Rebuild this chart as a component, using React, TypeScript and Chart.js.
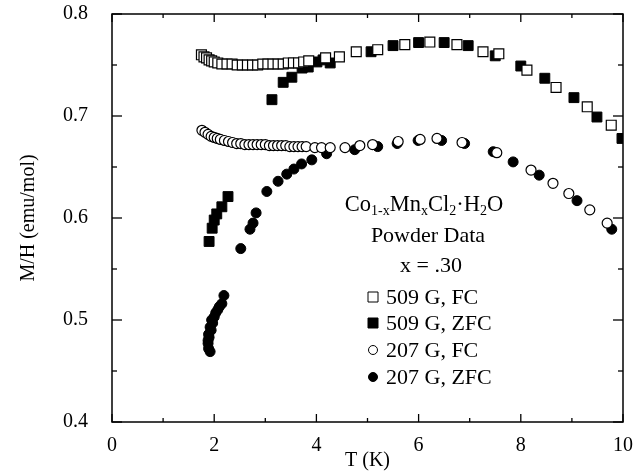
import React, { useEffect, useRef } from "react";
import { Chart, registerables } from "chart.js";

Chart.register(...registerables);

const FONT = '"Liberation Serif", "Times New Roman", serif';

// T (K), M/H (emu/mol)
const fc509: [number, number][] = [
  [1.75, 0.76], [1.8, 0.758], [1.85, 0.757], [1.9, 0.755], [1.95, 0.754], [2.0, 0.753],
  [2.07, 0.752], [2.15, 0.751], [2.25, 0.751], [2.35, 0.751], [2.45, 0.75], [2.55, 0.75],
  [2.65, 0.75], [2.75, 0.75], [2.85, 0.75], [2.95, 0.751], [3.05, 0.751], [3.15, 0.751],
  [3.25, 0.751], [3.35, 0.751], [3.45, 0.752], [3.55, 0.752], [3.65, 0.752], [3.75, 0.753],
  [3.85, 0.754], [4.18, 0.757], [4.45, 0.758], [4.78, 0.763], [5.2, 0.765], [5.73, 0.77],
  [6.22, 0.7725], [6.75, 0.77], [7.26, 0.763], [7.57, 0.761], [8.12, 0.745], [8.69, 0.728],
  [9.3, 0.709], [9.77, 0.691],
];

const zfc509: [number, number][] = [
  [1.9, 0.577], [1.96, 0.59], [2.0, 0.598], [2.05, 0.604], [2.15, 0.611], [2.27, 0.621],
  [3.13, 0.716], [3.35, 0.733], [3.52, 0.738], [3.72, 0.747], [3.84, 0.748], [4.01, 0.753],
  [4.13, 0.755], [4.27, 0.752], [5.07, 0.763], [5.5, 0.769], [6.0, 0.772], [6.5, 0.772],
  [6.97, 0.769], [7.5, 0.759], [8.0, 0.749], [8.47, 0.737], [9.04, 0.718], [9.49, 0.699],
  [9.98, 0.678],
];

const fc207: [number, number][] = [
  [1.76, 0.686], [1.82, 0.684], [1.88, 0.682], [1.94, 0.68], [2.0, 0.679], [2.06, 0.678],
  [2.12, 0.677], [2.2, 0.676], [2.28, 0.675], [2.36, 0.674], [2.44, 0.673], [2.52, 0.673],
  [2.6, 0.672], [2.68, 0.672], [2.76, 0.672], [2.84, 0.672], [2.92, 0.672], [3.0, 0.672],
  [3.08, 0.671], [3.16, 0.671], [3.24, 0.671], [3.32, 0.671], [3.4, 0.671], [3.48, 0.67],
  [3.56, 0.67], [3.64, 0.67], [3.72, 0.67], [3.8, 0.67], [3.97, 0.669], [4.1, 0.669],
  [4.27, 0.669], [4.56, 0.669], [4.85, 0.671], [5.1, 0.672], [5.6, 0.675], [6.03, 0.677],
  [6.36, 0.678], [6.85, 0.674], [7.53, 0.664], [8.2, 0.647], [8.63, 0.634], [8.94, 0.624],
  [9.35, 0.608], [9.69, 0.595],
];

const zfc207: [number, number][] = [
  [1.92, 0.469], [1.89, 0.472], [1.88, 0.477], [1.88, 0.48], [1.9, 0.483], [1.89, 0.486],
  [1.94, 0.49], [1.92, 0.493], [1.97, 0.497], [1.95, 0.5], [2.0, 0.503], [2.03, 0.507],
  [2.07, 0.51], [2.1, 0.513], [2.15, 0.516], [2.19, 0.524], [2.52, 0.57], [2.7, 0.589],
  [2.76, 0.595], [2.82, 0.605], [3.03, 0.626], [3.25, 0.636], [3.42, 0.643], [3.56, 0.648],
  [3.71, 0.653], [3.91, 0.657], [4.2, 0.663], [4.75, 0.667], [5.2, 0.67], [5.58, 0.673],
  [5.99, 0.676], [6.45, 0.676], [6.9, 0.673], [7.46, 0.665], [7.85, 0.655], [8.36, 0.642],
  [9.1, 0.617], [9.78, 0.589],
];

const seriesLabels = ["509 G, FC", "509 G, ZFC", "207 G, FC", "207 G, ZFC"];
const xMajorTicks = [0, 2, 4, 6, 8, 10];
const xMinorTicks = [1, 3, 5, 7, 9];
const yMajorTicks = [0.4, 0.5, 0.6, 0.7, 0.8];
const yMinorTicks = [0.45, 0.55, 0.65, 0.75];
const annotationLines = ["Powder Data", "x = .30"];

const toPts = (arr: [number, number][]) => arr.map(([x, y]) => ({ x, y }));

const frameTicksPlugin = {
  id: "frameTicks",
  afterDatasetsDraw(chart: any) {
    const { ctx, chartArea, scales } = chart;
    const { left, right, top, bottom } = chartArea;
    const x = scales.x;
    const y = scales.y;
    ctx.save();
    ctx.strokeStyle = "#000";
    ctx.lineWidth = 1.5;
    ctx.strokeRect(left, top, right - left, bottom - top);
    ctx.lineWidth = 1.3;
    const line = (x1: number, y1: number, x2: number, y2: number) => {
      ctx.beginPath();
      ctx.moveTo(x1, y1);
      ctx.lineTo(x2, y2);
      ctx.stroke();
    };
    const xt = (v: number, len: number) => {
      const px = x.getPixelForValue(v);
      line(px, bottom, px, bottom - len);
      line(px, top, px, top + len);
    };
    const yt = (v: number, len: number) => {
      const py = y.getPixelForValue(v);
      line(left, py, left + len, py);
      line(right, py, right - len, py);
    };
    xMajorTicks.forEach((v) => xt(v, 8));
    xMinorTicks.forEach((v) => xt(v, 4));
    yMajorTicks.forEach((v) => yt(v, 10));
    yMinorTicks.forEach((v) => yt(v, 5));
    ctx.restore();
  },
};

const textPlugin = {
  id: "textBlock",
  afterDraw(chart: any) {
    const { ctx } = chart;
    ctx.save();
    ctx.fillStyle = "#000";
    const big = `22.5px ${FONT}`;
    const legendFont = `22px ${FONT}`;
    const small = `14px ${FONT}`;
    const pieces: [string, boolean][] = [
      ["Co", false], ["1-x", true], ["Mn", false], ["x", true], ["Cl", false],
      ["2", true], ["\u00B7H", false], ["2", true], ["O", false],
    ];
    let total = 0;
    pieces.forEach(([t, sub]) => {
      ctx.font = sub ? small : big;
      total += ctx.measureText(t).width;
    });
    let cx = 424 - total / 2;
    const base = 211;
    ctx.textBaseline = "alphabetic";
    ctx.textAlign = "left";
    pieces.forEach(([t, sub]) => {
      ctx.font = sub ? small : big;
      ctx.fillText(t, cx, sub ? base + 4 : base);
      cx += ctx.measureText(t).width;
    });
    ctx.font = legendFont;
    ctx.textAlign = "center";
    ctx.textBaseline = "middle";
    ctx.fillText(annotationLines[0], 428, 236);
    ctx.fillText(annotationLines[1], 431, 266);
    const rows = [297, 323, 350, 377];
    chart.data.datasets.forEach((ds: any, i: number) => {
      const yy = rows[i];
      const mx = 373;
      ctx.fillStyle = ds.backgroundColor;
      ctx.strokeStyle = "#000";
      ctx.lineWidth = 1;
      ctx.beginPath();
      if (ds.pointStyle === "rect") {
        ctx.rect(mx - 5, yy - 5, 10, 10);
      } else {
        ctx.arc(mx, yy, 4.5, 0, Math.PI * 2);
      }
      ctx.fill();
      ctx.stroke();
      ctx.fillStyle = "#000";
      ctx.textAlign = "left";
      ctx.font = legendFont;
      ctx.fillText(ds.label, 386, yy + 1);
    });
    ctx.restore();
  },
};

export default function App() {
  const ref = useRef<HTMLCanvasElement | null>(null);
  useEffect(() => {
    if (!ref.current) return;
    const chart = new Chart(ref.current, {
      type: "scatter",
      data: {
        datasets: [
          {
            label: seriesLabels[0], data: toPts(fc509), pointStyle: "rect", pointRadius: 7,
            backgroundColor: "#fff", borderColor: "#000", borderWidth: 1.2,
          },
          {
            label: seriesLabels[1], data: toPts(zfc509), pointStyle: "rect", pointRadius: 7,
            backgroundColor: "#000", borderColor: "#000", borderWidth: 1,
          },
          {
            label: seriesLabels[2], data: toPts(fc207), pointStyle: "circle", pointRadius: 5,
            backgroundColor: "#fff", borderColor: "#000", borderWidth: 1.2,
          },
          {
            label: seriesLabels[3], data: toPts(zfc207), pointStyle: "circle", pointRadius: 5,
            backgroundColor: "#000", borderColor: "#000", borderWidth: 1,
          },
        ] as any,
      },
      options: {
        animation: false,
        responsive: false,
        devicePixelRatio: 1,
        layout: { padding: { top: 14, right: 13, left: 0, bottom: 0 } },
        plugins: { legend: { display: false }, tooltip: { enabled: false } },
        scales: {
          x: {
            type: "linear",
            min: 0,
            max: 10,
            afterFit: (s: any) => {
              s.height = 51;
              s.paddingLeft = 0;
              s.paddingRight = 0;
            },
            ticks: {
              stepSize: 2,
              padding: 12,
              color: "#000",
              font: { family: FONT, size: 20 },
              callback: (v: any) => String(v),
            },
            grid: { display: false, drawTicks: false },
            border: { display: false },
            title: {
              display: true, text: "T (K)", color: "#000",
              font: { family: FONT, size: 20 }, padding: { top: 0, bottom: 0 },
            },
          },
          y: {
            type: "linear",
            min: 0.4,
            max: 0.8,
            afterFit: (s: any) => {
              s.width = 112;
              s.paddingTop = 0;
              s.paddingBottom = 0;
            },
            ticks: {
              stepSize: 0.1,
              padding: 24,
              color: "#000",
              font: { family: FONT, size: 20 },
              callback: (v: any) => Number(v).toFixed(1),
            },
            grid: { display: false, drawTicks: false },
            border: { display: false },
            title: {
              display: true, text: "M/H (emu/mol)", color: "#000",
              font: { family: FONT, size: 20 }, padding: { top: 17, bottom: 0 },
            },
          },
        },
      } as any,
      plugins: [frameTicksPlugin, textPlugin],
    });
    return () => chart.destroy();
  }, []);
  return (
    <div style={{ position: "fixed", left: 0, top: 0, width: 636, height: 473, background: "#fff" }}>
      <canvas ref={ref} width={636} height={473} />
    </div>
  );
}
